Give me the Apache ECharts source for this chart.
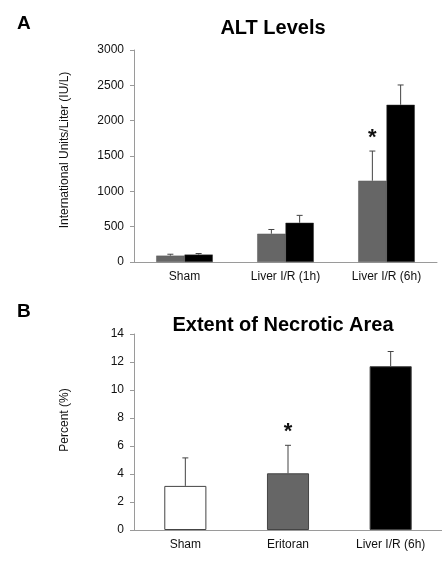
<!DOCTYPE html>
<html>
<head>
<meta charset="utf-8">
<script src="https://cdn.jsdelivr.net/npm/echarts@6/dist/echarts.min.js"></script>
<style>
  html, body { margin: 0; padding: 0; background: #fff; }
  #main { width: 442px; height: 577px; }
</style>
</head>
<body>
<div id="main"></div>
<script>
// panel A - ALT levels
var altCats = ['Sham', 'Liver I/R (1h)', 'Liver I/R (6h)'];
var altGray = [90, 400, 1150];
var altGrayErr = [20, 60, 420];
var altBlack = [105, 555, 2225];
var altBlackErr = [15, 105, 280];
var altStar = [false, false, true];
var altTicks = [0, 500, 1000, 1500, 2000, 2500, 3000];

// panel B - necrotic area
var necCats = ['Sham', 'Eritoran', 'Liver I/R (6h)'];
var necVals = [3.15, 4.05, 11.7];
var necErr = [2.0, 2.0, 1.05];
var necStar = [false, true, false];
var necColors = ['#ffffff', '#666666', '#000000'];

var font = 'Liberation Sans, Arial, sans-serif';
var axisGray = '#9a9a9a';

function errData(vals, errs, stars) {
    return vals.map(function (v, i) {
        return [i, v, v + errs[i], stars[i] ? 1 : 0];
    });
}

// error bar (upper whisker + cap) drawn through the axes' own coordinates
function errRender(offsetFrac) {
    return function (params, api) {
        var base = api.coord([api.value(0), api.value(1)]);
        var up = api.coord([api.value(0), api.value(2)]);
        var band = api.size([1, 0])[0];
        var x = base[0] + offsetFrac * band;
        var st = { stroke: '#444', lineWidth: 1 };
        var kids = [
            { type: 'line', shape: { x1: x, y1: base[1], x2: x, y2: up[1] }, style: st },
            { type: 'line', shape: { x1: x - 3, y1: up[1], x2: x + 3, y2: up[1] }, style: st }
        ];
        if (api.value(3)) {
            kids.push({
                type: 'text',
                style: {
                    x: x, y: up[1] - 2, text: '*',
                    fill: '#111', font: 'bold 22px ' + font,
                    align: 'center', verticalAlign: 'bottom'
                }
            });
        }
        return { type: 'group', children: kids };
    };
}

var chart = echarts.init(document.getElementById('main'));

var catAxis = function (cats, idx) {
    return {
        type: 'category', gridIndex: idx, data: cats,
        axisLine: { lineStyle: { color: axisGray } },
        axisTick: { length: 4, lineStyle: { color: axisGray } },
        axisLabel: { color: '#111', fontSize: 12, fontFamily: font, margin: 9 }
    };
};

var valAxis = function (idx, max, interval, name, gap, shift) {
    return {
        type: 'value', gridIndex: idx, min: 0, max: max, interval: interval,
        name: name, nameLocation: 'middle', nameGap: gap, nameRotate: 90,
        nameTextStyle: { color: '#111', fontSize: 12, fontFamily: font, padding: [0, 0, 0, shift] },
        axisLine: { show: true, lineStyle: { color: axisGray } },
        axisTick: { show: true, length: 4, lineStyle: { color: axisGray } },
        splitLine: { show: false },
        axisLabel: {
            color: '#111', fontSize: 12, fontFamily: font, margin: 10,
            formatter: function (v) { return String(v); }
        }
    };
};

var option = {
    animation: false,
    backgroundColor: '#fff',
    title: [
        { text: 'A', left: 12, top: 9, textStyle: { fontSize: 19, fontWeight: 'bold', color: '#000', fontFamily: font } },
        { text: 'ALT Levels', left: 268, top: 13, textAlign: 'center', textStyle: { fontSize: 20, fontWeight: 'bold', color: '#000', fontFamily: font } },
        { text: 'B', left: 12, top: 297, textStyle: { fontSize: 19, fontWeight: 'bold', color: '#000', fontFamily: font } },
        { text: 'Extent of Necrotic Area', left: 278, top: 310, textAlign: 'center', textStyle: { fontSize: 20, fontWeight: 'bold', color: '#000', fontFamily: font } }
    ],
    grid: [
        { left: 134, top: 50, width: 303, height: 212 },
        { left: 134, top: 334, width: 310, height: 196 }
    ],
    xAxis: [catAxis(altCats, 0), catAxis(necCats, 1)],
    yAxis: [
        valAxis(0, altTicks[altTicks.length - 1], 500, 'International Units/Liter (IU/L)', 63, 12),
        valAxis(1, 14, 2, 'Percent (%)', 63, 24)
    ],
    series: [
        {
            type: 'bar', xAxisIndex: 0, yAxisIndex: 0, data: altGray,
            barWidth: '28%', barGap: '0%',
            itemStyle: { color: '#666666', borderColor: '#5a5a5a', borderWidth: 0.5 }
        },
        {
            type: 'bar', xAxisIndex: 0, yAxisIndex: 0, data: altBlack,
            barWidth: '28%', barGap: '0%',
            itemStyle: { color: '#000000', borderColor: '#333', borderWidth: 0.5 }
        },
        {
            type: 'custom', xAxisIndex: 0, yAxisIndex: 0, z: 5,
            renderItem: errRender(-0.14), data: errData(altGray, altGrayErr, altStar)
        },
        {
            type: 'custom', xAxisIndex: 0, yAxisIndex: 0, z: 5,
            renderItem: errRender(0.14), data: errData(altBlack, altBlackErr, [false, false, false])
        },
        {
            type: 'bar', xAxisIndex: 1, yAxisIndex: 1, barWidth: '41%',
            data: necVals.map(function (v, i) {
                return { value: v, itemStyle: { color: necColors[i] } };
            }),
            itemStyle: { borderColor: '#444', borderWidth: 1 }
        },
        {
            type: 'custom', xAxisIndex: 1, yAxisIndex: 1, z: 5,
            renderItem: errRender(0), data: errData(necVals, necErr, necStar)
        }
    ]
};

chart.setOption(option);
</script>
</body>
</html>
